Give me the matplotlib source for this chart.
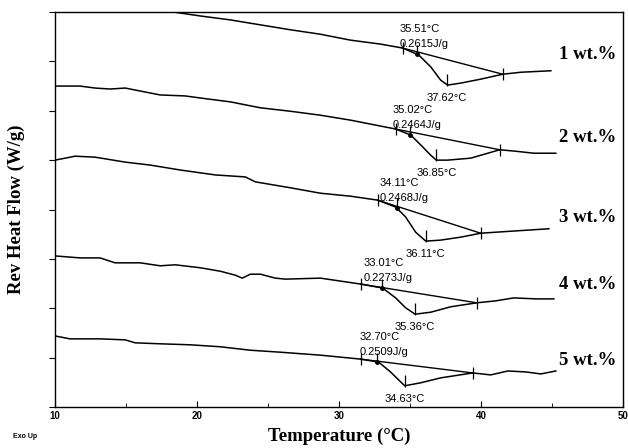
import matplotlib
matplotlib.use("Agg")
import matplotlib.pyplot as plt

# temperature (C) and rev heat flow (arbitrary offset units)
t1 = [18.32, 20.23, 22.35, 24.46, 26.58, 28.69, 30.81, 32.93, 34.48, 35.61, 36.46, 37.16, 37.65, 38.57, 39.98, 41.53, 42.80, 44.92]
y1 = [8.00, 7.92, 7.84, 7.74, 7.64, 7.55, 7.43, 7.35, 7.27, 7.13, 6.89, 6.62, 6.52, 6.56, 6.64, 6.74, 6.78, 6.81]

t2 = [10.0, 11.76, 12.82, 13.88, 14.94, 16.0, 17.41, 19.17, 20.72, 22.35, 24.46, 26.58, 28.69, 30.81, 32.57, 33.99, 35.04, 35.75, 36.46, 36.85, 37.65, 39.28, 41.32, 42.45, 43.72, 45.27]
y2 = [6.50, 6.50, 6.46, 6.44, 6.46, 6.40, 6.32, 6.30, 6.24, 6.18, 6.06, 5.99, 5.91, 5.81, 5.71, 5.63, 5.51, 5.31, 5.10, 5.00, 5.00, 5.04, 5.21, 5.18, 5.14, 5.14]

t3 = [10.0, 10.71, 11.41, 12.82, 14.94, 16.70, 18.82, 21.29, 23.40, 24.11, 26.58, 28.69, 30.81, 32.72, 33.99, 34.69, 35.40, 36.11, 37.16, 38.57, 39.98, 42.10, 44.78]
y3 = [5.00, 5.04, 5.08, 5.06, 4.96, 4.90, 4.80, 4.70, 4.66, 4.56, 4.44, 4.33, 4.27, 4.19, 4.05, 3.85, 3.54, 3.36, 3.38, 3.44, 3.52, 3.56, 3.61]

t4 = [10.0, 11.76, 13.17, 14.23, 16.0, 17.41, 18.47, 20.23, 21.64, 22.70, 23.19, 23.76, 24.46, 25.52, 26.23, 28.69, 30.11, 31.52, 33.07, 33.99, 34.69, 35.36, 36.46, 37.87, 39.70, 41.04, 42.31, 43.86, 45.13]
y4 = [3.06, 3.02, 3.02, 2.92, 2.92, 2.86, 2.88, 2.82, 2.75, 2.67, 2.61, 2.69, 2.69, 2.61, 2.59, 2.61, 2.55, 2.49, 2.41, 2.21, 2.01, 1.88, 1.92, 2.03, 2.11, 2.15, 2.21, 2.19, 2.19]

t5 = [10.0, 11.06, 13.17, 14.94, 15.64, 17.41, 19.52, 21.64, 23.76, 25.87, 28.69, 30.11, 31.52, 32.79, 33.63, 34.34, 34.63, 35.75, 37.16, 39.42, 40.69, 41.89, 43.16, 44.22, 45.27]
y5 = [1.44, 1.38, 1.38, 1.36, 1.30, 1.28, 1.26, 1.22, 1.15, 1.11, 1.05, 1.01, 0.97, 0.91, 0.71, 0.51, 0.43, 0.49, 0.59, 0.69, 0.65, 0.73, 0.71, 0.67, 0.73]

labels = ["1 wt.%", "2 wt.%", "3 wt.%", "4 wt.%", "5 wt.%"]
# onset tick, inflection (labelled), minimum, end tick
onset_t = [34.48, 33.99, 32.72, 31.52, 31.52]
onset_y = [7.27, 5.63, 4.19, 2.49, 0.97]
infl_t = [35.51, 35.02, 34.11, 33.01, 32.70]
infl_y = [7.14, 5.51, 4.04, 2.41, 0.91]
enthalpy = ["0.2615J/g", "0.2464J/g", "0.2468J/g", "0.2273J/g", "0.2509J/g"]
min_t = [37.62, 36.85, 36.11, 35.36, 34.63]
min_y = [6.52, 5.00, 3.36, 1.88, 0.43]
end_t = [41.53, 41.32, 39.98, 39.70, 39.42]
end_y = [6.74, 5.21, 3.52, 2.11, 0.69]
label_y = [7.13, 5.45, 3.83, 2.49, 0.95]

curves = [(t1, y1), (t2, y2), (t3, y3), (t4, y4), (t5, y5)]

fig = plt.figure(figsize=(6.28, 4.48), dpi=100)
ax = fig.add_axes([0.0876, 0.0915, 0.9044, 0.8817])

small = dict(family="Liberation Sans", fontsize=8, color="black")

for i, (t, y) in enumerate(curves):
    ax.plot(t, y, color="black", lw=1.1)
    ax.plot([onset_t[i], end_t[i]], [onset_y[i], end_y[i]], color="black", lw=1.0)
    ax.plot([onset_t[i], end_t[i]], [onset_y[i], end_y[i]], ls="none", marker="|",
            ms=9, mew=0.9, color="black")
    ax.plot(infl_t[i], infl_y[i], marker="o", ms=2.5, color="black")
    ax.plot(infl_t[i], infl_y[i] + 0.09, marker="|", ms=7, mew=0.9, color="black")
    ax.plot(min_t[i], min_y[i] + 0.1, marker="|", ms=8, mew=0.9, color="black")
    ax.annotate(f"{infl_t[i]:.2f}°C", (infl_t[i], infl_y[i]), xytext=(-18, 25),
                textcoords="offset pixels", ha="left", va="center", **small)
    ax.annotate(enthalpy[i], (infl_t[i], infl_y[i]), xytext=(-18, 10),
                textcoords="offset pixels", ha="left", va="center", **small)
    ax.annotate(f"{min_t[i]:.2f}°C", (min_t[i], min_y[i]), xytext=(0, -13),
                textcoords="offset pixels", ha="center", va="center", **small)
    ax.text(45.5, label_y[i], labels[i], family="Liberation Serif", fontweight="bold",
            fontsize=13.5, ha="left", va="center")

ax.set_xlim(10, 50)
ax.set_ylim(0, 8)
ax.set_xticks([10, 20, 30, 40, 50])
ax.set_xticks([15, 25, 35, 45], minor=True)
ax.set_yticks(range(9))
ax.set_yticklabels([])
ax.tick_params(axis="x", direction="in", length=4, labelsize=7, pad=3)
ax.tick_params(axis="x", which="minor", direction="in", length=3)
ax.tick_params(axis="y", direction="out", length=4)
for lab in ax.get_xticklabels():
    lab.set_family("Liberation Sans")
    lab.set_fontweight("bold")
for s in ax.spines.values():
    s.set_linewidth(1.0)

ax.set_xlabel("Temperature (°C)", family="Liberation Serif", fontweight="bold",
              fontsize=13.5, labelpad=5)
ax.set_ylabel("Rev Heat Flow (W/g)", family="Liberation Serif", fontweight="bold",
              fontsize=13.5, labelpad=14)
fig.text(0.02, 0.025, "Exo Up", family="Liberation Sans", fontweight="bold",
         fontsize=5, ha="left", va="center")

fig.savefig("out.png", dpi=100)
